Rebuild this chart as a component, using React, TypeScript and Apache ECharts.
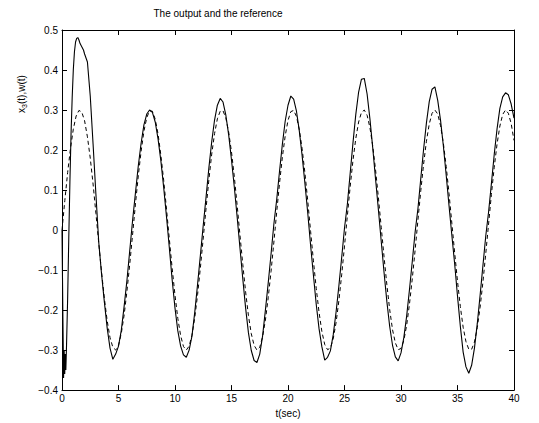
import React, { useEffect, useRef } from "react";
import * as echarts from "echarts";

// Reference signal w(t), sampled every 0.25 s from t = 0 to t = 40
const refStep = 0.25;
const refValues = [
  0, 0.074, 0.144, 0.204, 0.252, 0.285, 0.299, 0.295,
  0.273, 0.233, 0.18, 0.115, 0.042, -0.032, -0.105, -0.171,
  -0.227, -0.269, -0.293, -0.3, -0.288, -0.258, -0.212, -0.152,
  -0.084, -0.01, 0.065, 0.135, 0.197, 0.247, 0.281, 0.298,
  0.297, 0.277, 0.24, 0.187, 0.124, 0.052, -0.023, -0.096,
  -0.163, -0.221, -0.264, -0.291, -0.3, -0.29, -0.263, -0.219,
  -0.161, -0.093, -0.02, 0.055, 0.126, 0.19, 0.241, 0.278,
  0.297, 0.298, 0.28, 0.245, 0.195, 0.133, 0.062, -0.013,
  -0.086, -0.155, -0.214, -0.259, -0.288, -0.3, -0.293, -0.267,
  -0.225, -0.169, -0.103, -0.03, 0.045, 0.117, 0.182, 0.235,
  0.274, 0.296, 0.299, 0.284, 0.251, 0.203, 0.142, 0.072,
  -0.003, -0.077, -0.146, -0.206, -0.254, -0.286, -0.299, -0.295,
  -0.272, -0.232, -0.177, -0.112, -0.04, 0.035, 0.108, 0.174,
  0.229, 0.27, 0.294, 0.3, 0.287, 0.256, 0.21, 0.15,
  0.081, 0.007, -0.067, -0.137, -0.199, -0.249, -0.282, -0.299,
  -0.296, -0.276, -0.238, -0.185, -0.121, -0.05, 0.025, 0.098,
  0.165, 0.222, 0.265, 0.292, 0.3, 0.29, 0.261, 0.217,
  0.159, 0.091, 0.017, -0.057, -0.128, -0.191, -0.243, -0.279,
  -0.298, -0.298, -0.28, -0.244, -0.193, -0.13, -0.059, 0.015,
  0.089, 0.157, 0.215, 0.26, 0.289, 0.3, 0.292, 0.266,
  0.224,
];

// Output x3(t): initial transient (irregular times)
const outStartTimes = [
  0, 0.08, 0.14, 0.19, 0.24, 0.29, 0.34, 0.4, 0.5, 0.6, 0.7, 0.8, 0.9,
  1.0, 1.1, 1.2, 1.3, 1.4, 1.5, 1.6, 1.75, 1.9,
];
const outStartValues = [
  0, -0.22, -0.37, -0.3, -0.36, -0.31, -0.35, -0.29, -0.17, -0.02, 0.12,
  0.24, 0.33, 0.4, 0.445, 0.47, 0.479, 0.481, 0.475, 0.466, 0.458, 0.45,
];

// Output x3(t) from t = 2 to t = 40 every 0.25 s
const outGridStart = 2;
const outGridStep = 0.25;
const outGridValues = [
  0.44, 0.42, 0.335, 0.215, 0.09, -0.03, -0.11, -0.18,
  -0.245, -0.295, -0.323, -0.31, -0.29, -0.25, -0.19, -0.125,
  -0.05, 0.025, 0.093, 0.16, 0.217, 0.263, 0.29, 0.3,
  0.294, 0.27, 0.228, 0.173, 0.106, 0.033, -0.045, -0.125,
  -0.195, -0.252, -0.29, -0.312, -0.318, -0.3, -0.265, -0.205,
  -0.135, -0.062, 0.012, 0.083, 0.156, 0.221, 0.275, 0.312,
  0.329, 0.32, 0.287, 0.238, 0.175, 0.107, 0.033, -0.045,
  -0.122, -0.195, -0.257, -0.301, -0.326, -0.331, -0.31, -0.265,
  -0.2, -0.132, -0.06, 0.015, 0.076, 0.147, 0.214, 0.272,
  0.312, 0.335, 0.327, 0.297, 0.248, 0.186, 0.116, 0.042,
  -0.038, -0.113, -0.186, -0.247, -0.292, -0.325, -0.318, -0.302,
  -0.262, -0.206, -0.14, -0.069, 0.005, 0.064, 0.141, 0.218,
  0.289, 0.345, 0.377, 0.379, 0.34, 0.278, 0.205, 0.127,
  0.051, -0.028, -0.106, -0.179, -0.241, -0.288, -0.317, -0.327,
  -0.307, -0.269, -0.215, -0.149, -0.078, -0.005, 0.054, 0.129,
  0.202, 0.268, 0.321, 0.352, 0.358, 0.324, 0.274, 0.21,
  0.137, 0.061, -0.013, -0.085, -0.165, -0.24, -0.305, -0.342,
  -0.358, -0.338, -0.295, -0.234, -0.163, -0.089, -0.015, 0.045,
  0.116, 0.189, 0.253, 0.304, 0.333, 0.343, 0.338, 0.315,
  0.28,
];

const xTicks = { min: 0, max: 40, interval: 5 };
const yTicks = { min: -0.4, max: 0.5, interval: 0.1 };

const FONT = "'Liberation Sans', Arial, Helvetica, sans-serif";

function fmtY(v: number): string {
  const r = Math.round(v * 10) / 10;
  if (r < 0) return "\u2212" + String(Math.abs(r));
  return String(r === 0 ? 0 : r);
}

export default function App() {
  const ref = useRef<HTMLDivElement>(null);

  useEffect(() => {
    if (!ref.current) return;
    const chart = echarts.init(ref.current, undefined, { renderer: "svg" });

    const refData = refValues.map((v, i) => [i * refStep, v]);
    const outData = outStartTimes
      .map((t, i) => [t, outStartValues[i]])
      .concat(outGridValues.map((v, i) => [outGridStart + i * outGridStep, v]));

    const axisLine = { show: true, onZero: false, lineStyle: { color: "#000", width: 1 } };
    const axisTick = { show: true, inside: true, length: 5, lineStyle: { color: "#000", width: 1 } };

    chart.setOption({
      animation: false,
      backgroundColor: "#fff",
      grid: { left: 62, right: 25, top: 30, bottom: 26, containLabel: false },
      xAxis: [
        {
          type: "value",
          position: "bottom",
          min: xTicks.min,
          max: xTicks.max,
          interval: xTicks.interval,
          axisLine,
          axisTick,
          splitLine: { show: false },
          axisLabel: { color: "#000", fontSize: 10, fontFamily: FONT, margin: 3 },
          name: "t(sec)",
          nameLocation: "middle",
          nameGap: 15,
          nameTextStyle: { color: "#000", fontSize: 10, fontFamily: FONT },
        },
        {
          type: "value",
          position: "top",
          min: xTicks.min,
          max: xTicks.max,
          interval: xTicks.interval,
          axisLine,
          axisTick,
          splitLine: { show: false },
          axisLabel: { show: false },
        },
      ],
      yAxis: [
        {
          type: "value",
          position: "left",
          min: yTicks.min,
          max: yTicks.max,
          interval: yTicks.interval,
          axisLine,
          axisTick,
          splitLine: { show: false },
          axisLabel: {
            color: "#000",
            fontSize: 10,
            fontFamily: FONT,
            margin: 4,
            formatter: (v: number) => fmtY(v),
          },
        },
        {
          type: "value",
          position: "right",
          min: yTicks.min,
          max: yTicks.max,
          interval: yTicks.interval,
          axisLine,
          axisTick,
          splitLine: { show: false },
          axisLabel: { show: false },
        },
      ],
      graphic: [
        {
          type: "text",
          x: 218,
          y: 13,
          style: {
            text: "The output and the reference",
            fill: "#000",
            font: `10px ${FONT}`,
            textAlign: "center",
            textVerticalAlign: "middle",
          },
        },
        {
          type: "text",
          x: 21,
          y: 94,
          rotation: Math.PI / 2,
          style: {
            text: "{a|x}{s|3}{a|(t),w(t)}",
            fill: "#000",
            textAlign: "center",
            textVerticalAlign: "middle",
            rich: {
              a: { fontSize: 10, fontFamily: FONT, lineHeight: 14, fill: "#000" },
              s: { fontSize: 7, fontFamily: FONT, lineHeight: 7, verticalAlign: "bottom", fill: "#000" },
            },
          },
        },
      ],
      series: [
        {
          name: "w(t)",
          type: "line",
          xAxisIndex: 0,
          yAxisIndex: 0,
          data: refData,
          showSymbol: false,
          symbol: "none",
          lineStyle: { color: "#000", width: 1, type: [4, 3] },
          z: 2,
        },
        {
          name: "x3(t)",
          type: "line",
          xAxisIndex: 0,
          yAxisIndex: 0,
          data: outData,
          showSymbol: false,
          symbol: "none",
          lineStyle: { color: "#000", width: 1.1, type: "solid" },
          z: 3,
        },
      ],
    });

    return () => chart.dispose();
  }, []);

  return (
    <div
      ref={ref}
      style={{ position: "absolute", left: 0, top: 0, width: 539, height: 423, background: "#fff" }}
    />
  );
}
